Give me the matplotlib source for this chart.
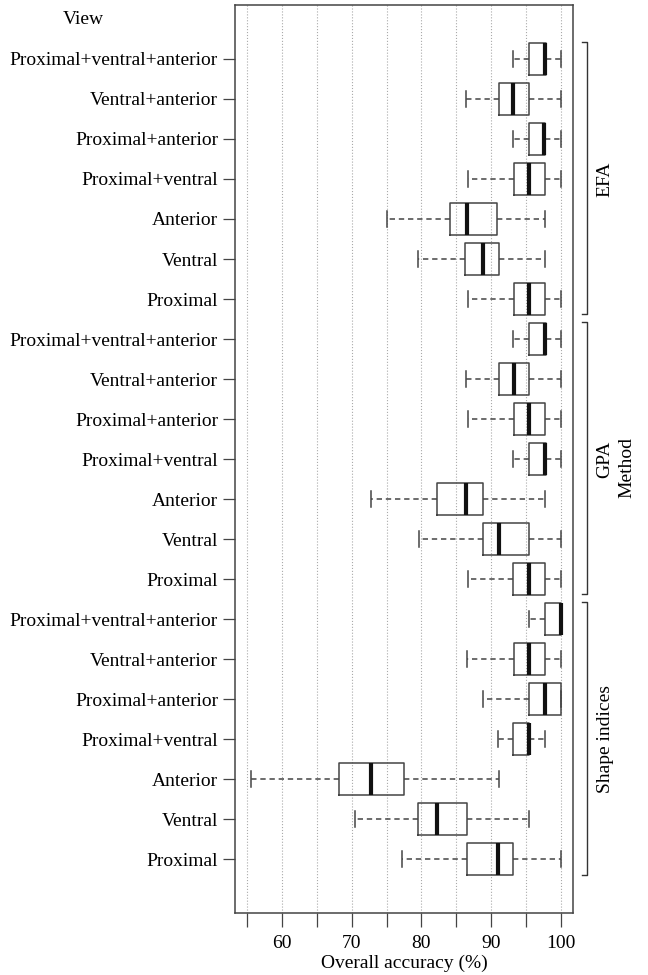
import numpy as np
import matplotlib
matplotlib.use("Agg")
import matplotlib.pyplot as plt
import matplotlib.transforms as mtransforms

plt.rcParams['font.family'] = ['Liberation Serif', 'DejaVu Serif']

# Подписи видов (снизу вверх внутри каждой группы)
views = ['Proximal', 'Ventral', 'Anterior', 'Proximal+ventral',
         'Proximal+anterior', 'Ventral+anterior', 'Proximal+ventral+anterior']
methods = ['Shape indices', 'GPA', 'EFA']

# Статистики боксов, порядок как у views
shape_lo  = [77.2, 70.4, 55.6, 91.0, 88.9, 86.6, 95.4]
shape_q1  = [86.6, 79.5, 68.2, 93.1, 95.5, 93.3, 97.8]
shape_med = [91.0, 82.3, 72.8, 95.4, 97.8, 95.5, 100.0]
shape_q3  = [93.2, 86.5, 77.5, 95.5, 100.0, 97.8, 100.0]
shape_hi  = [100.0, 95.5, 91.1, 97.8, 100.0, 100.0, 100.0]

gpa_lo  = [86.7, 79.6, 72.8, 93.2, 86.7, 86.4, 93.2]
gpa_q1  = [93.2, 88.9, 82.2, 95.5, 93.3, 91.1, 95.4]
gpa_med = [95.5, 91.1, 86.4, 97.7, 95.5, 93.3, 97.7]
gpa_q3  = [97.8, 95.5, 88.9, 97.9, 97.8, 95.5, 97.9]
gpa_hi  = [100.0, 100.0, 97.7, 100.0, 100.0, 100.0, 100.0]

efa_lo  = [86.7, 79.5, 75.0, 86.7, 93.2, 86.4, 93.2]
efa_q1  = [93.3, 86.3, 84.1, 93.3, 95.5, 91.1, 95.4]
efa_med = [95.5, 88.9, 86.6, 95.5, 97.6, 93.2, 97.7]
efa_q3  = [97.8, 91.1, 90.9, 97.8, 97.8, 95.5, 97.9]
efa_hi  = [100.0, 97.7, 97.7, 100.0, 100.0, 100.0, 100.0]

groups = [
    (shape_lo, shape_q1, shape_med, shape_q3, shape_hi),
    (gpa_lo, gpa_q1, gpa_med, gpa_q3, gpa_hi),
    (efa_lo, efa_q1, efa_med, efa_q3, efa_hi),
]

stats = []
labels = []
for g in groups:
    lo, q1, med, q3, hi = g
    for i in range(len(views)):
        stats.append(dict(whislo=lo[i], q1=q1[i], med=med[i], q3=q3[i],
                          whishi=hi[i], fliers=[]))
        labels.append(views[i])

positions = np.arange(1, len(stats) + 1)

fig = plt.figure(figsize=(6.48, 9.75), dpi=100)
ax = fig.add_axes([0.3622, 0.0636, 0.8847 - 0.3622, 0.9946 - 0.0636])

box_col = '#444444'
ax.bxp(stats, positions=positions, vert=False, widths=0.8, capwidths=0.4,
       showfliers=False,
       boxprops=dict(color=box_col, linewidth=1.1),
       whiskerprops=dict(color=box_col, linewidth=1.1, linestyle=(0, (3.5, 2.5))),
       capprops=dict(color=box_col, linewidth=1.1),
       medianprops=dict(color='#111111', linewidth=3.0, solid_capstyle='butt'))

ax.set_xlim(53.2, 101.8)
ax.set_ylim(-0.34, 22.34)

# Сетка
for xv in np.arange(55, 101, 5):
    ax.axvline(xv, color='#aaaaaa', linestyle=':', linewidth=0.8, zorder=0)

ax.set_xticks(np.arange(55, 101, 5))
ax.set_xticklabels(['' if v % 10 else str(v) for v in np.arange(55, 101, 5)])
ax.set_yticks(positions)
ax.set_yticklabels(labels)
ax.tick_params(axis='both', direction='out', length=8, width=0.9,
               color='#444444', labelsize=14, pad=3)
ax.tick_params(axis='y', length=9)
ax.tick_params(axis='x', length=10, pad=6)
for s in ax.spines.values():
    s.set_color('#444444')
    s.set_linewidth(1.1)

ax.set_xlabel('Overall accuracy (%)', fontsize=14, labelpad=2)

fig.text(83 / 648, 1 - 19 / 975, 'View', fontsize=14, ha='center', va='center')

# Скобки групп справа
trans = mtransforms.blended_transform_factory(ax.transAxes, ax.transData)
x0, x1 = 1.0248, 1.0413
for k, name in enumerate(methods):
    top = 7 * k + 7 + 0.42
    bot = 7 * k + 1 - 0.38
    ax.plot([x0, x1, x1, x0], [top, top, bot, bot], transform=trans,
            color='#333333', linewidth=1.0, clip_on=False)
    ax.text(1.094, 7 * k + 4, name, transform=trans, rotation=90,
            ha='center', va='center', fontsize=14)

fig.text(627 / 648, 1 - 468 / 975, 'Method', rotation=90, fontsize=14,
         ha='center', va='center')

fig.savefig('out.png', dpi=100)
